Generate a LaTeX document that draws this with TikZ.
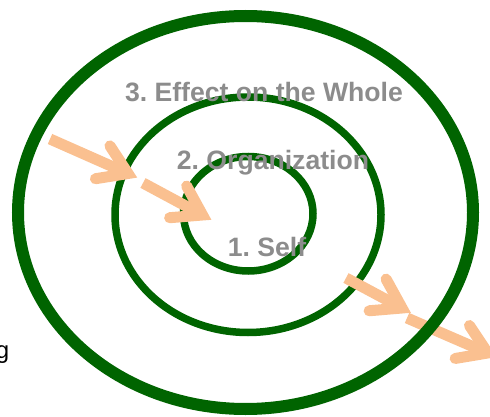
\documentclass[tikz,border=0pt]{standalone}
\usepackage{fontspec}
\setmainfont{Liberation Sans}
\usetikzlibrary{calc,shapes.geometric}
\definecolor{ringgreen}{HTML}{006400}
\definecolor{peach}{HTML}{FAC090}
\definecolor{labelgrey}{HTML}{8C8C8C}
\tikzset{
  ring/.style={draw=ringgreen, shape=ellipse, inner sep=0pt, outer sep=0pt},
  shaft/.style={draw=peach, line width=11pt, line cap=butt},
  head/.style={draw=peach, line width=11pt, line cap=round, line join=miter},
  lbl/.style={text=labelgrey, font=\fontsize{26.6}{30}\selectfont\bfseries, inner sep=0pt, anchor=base},
}
\newcommand\peachArrow[2]{%
  \draw[shaft] (#1) -- (#2);
  \draw[head] ($(#2)!33pt!33:(#1)$) -- (#2) -- ($(#2)!33pt!-33:(#1)$);}
\frenchspacing
\begin{document}
\begin{tikzpicture}[x=1pt,y=-1pt]
\useasboundingbox (0,0) rectangle (490,417);
\node[ring, line width=7.5pt, minimum width=266pt, minimum height=235.5pt] (middle) at (248,214.75) {};
\node[ring, line width=7.5pt, minimum width=129.5pt, minimum height=114.5pt] (inner) at (248.25,213.75) {};
\coordinate (a1s) at (50,139);
\coordinate (a1t) at (128,173.5);
\coordinate (a2s) at (143,183);
\coordinate (a2t) at (202.5,215);
\coordinate (a3s) at (346,278);
\coordinate (a3t) at (402,308);
\coordinate (a4s) at (407,318);
\coordinate (a4t) at (487.7,353);
\peachArrow{a1s}{a1t}
\peachArrow{a2s}{a2t}
\peachArrow{a3s}{a3t}
\peachArrow{a4s}{a4t}
\node[ring, line width=12pt, minimum width=455pt, minimum height=393pt] (outer) at (245.5,212.5) {};
\node[lbl] (whole) at (264,102) {3. Effect on the Whole};
\node[lbl] (org) at (273,170) {2. Organization};
\node[lbl] (self) at (267,256) {1. Self};
\node[font=\fontsize{24}{28}\selectfont, anchor=base east, inner sep=0pt] (cut) at (9.5,358) {g};
\end{tikzpicture}
\end{document}
